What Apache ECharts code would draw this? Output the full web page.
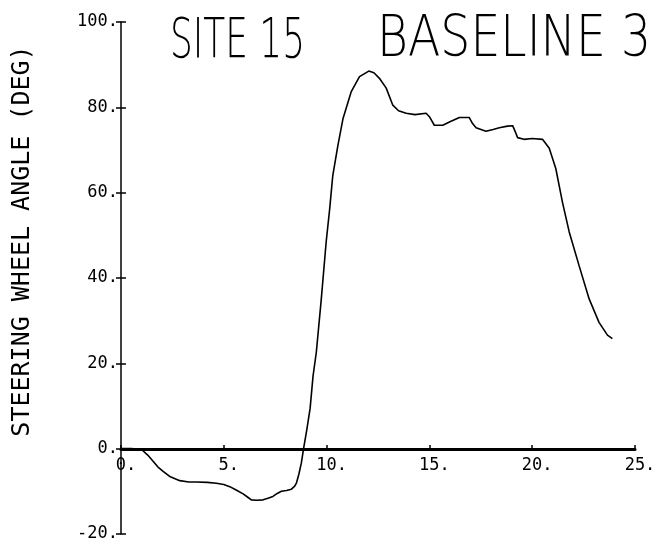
<!DOCTYPE html>
<html>
<head>
<meta charset="utf-8">
<script src="https://cdn.jsdelivr.net/npm/echarts@6/dist/echarts.min.js"></script>
<style>
  html, body { margin: 0; padding: 0; background: #fff; }
  #chart { width: 659px; height: 551px; }
</style>
</head>
<body>
<div id="chart"></div>
<script>
// time (s) and steering wheel angle (deg)
const timeSec = [0, 0.5, 1.0, 1.3, 1.57, 1.8, 2.05, 2.4, 2.86, 3.3, 3.67, 4.2, 4.64, 5.0, 5.29, 5.6, 5.94, 6.2, 6.34, 6.6, 6.91, 7.15, 7.39, 7.6, 7.8, 8.05, 8.29, 8.45, 8.53, 8.65, 8.77, 8.88, 9.04, 9.2, 9.34, 9.5, 9.74, 9.98, 10.15, 10.3, 10.55, 10.8, 11.2, 11.6, 12.05, 12.3, 12.57, 12.9, 13.22, 13.5, 13.87, 14.3, 14.84, 15.0, 15.24, 15.65, 16.0, 16.46, 16.94, 17.1, 17.27, 17.75, 18.1, 18.4, 18.8, 19.05, 19.2, 19.29, 19.6, 20.0, 20.5, 20.83, 21.15, 21.47, 21.8, 22.28, 22.77, 23.25, 23.66, 23.9];
const angleDeg = [0, 0, -0.2, -1.5, -3.0, -4.3, -5.3, -6.6, -7.5, -7.8, -7.8, -7.9, -8.1, -8.4, -8.9, -9.7, -10.6, -11.5, -12.0, -12.1, -12.0, -11.6, -11.2, -10.5, -10.0, -9.8, -9.5, -8.8, -8.1, -6.0, -3.4, 0, 4.5, 9.5, 17, 22.6, 35, 48.5, 56.2, 64, 71.1, 77.4, 83.7, 87.2, 88.5, 88.1, 86.8, 84.5, 80.5, 79.2, 78.6, 78.3, 78.6, 77.8, 75.8, 75.8, 76.6, 77.6, 77.6, 76.2, 75.2, 74.4, 74.8, 75.2, 75.6, 75.7, 74.0, 72.9, 72.5, 72.7, 72.5, 70.4, 65.6, 57.8, 50.8, 42.9, 35.1, 29.6, 26.6, 25.8];

const titleLeft = 'SITE 15';
const titleRight = 'BASELINE 3';
const yAxisTitle = 'STEERING WHEEL ANGLE (DEG)';

const monoFont = '"DejaVu Sans Mono", monospace';

const myChart = echarts.init(document.getElementById('chart'));

const option = {
    animation: false,
    backgroundColor: '#fff',
    grid: { left: 121, right: 24, top: 22, bottom: 17 },
    xAxis: {
        type: 'value',
        min: 0, max: 25, interval: 5,
        // move the axis up to y = 0 (labels go with it)
        offset: -85,
        axisLine: { onZero: false, lineStyle: { color: '#000', width: 3 } },
        axisTick: { show: true, inside: true, length: 4, lineStyle: { color: '#000', width: 1.5 } },
        splitLine: { show: false },
        axisLabel: {
            color: '#000', fontFamily: monoFont, fontSize: 17, margin: 8,
            padding: [0, 0, 0, 10],
            formatter: v => v + '.'
        }
    },
    yAxis: [{
        type: 'value',
        min: -20, max: 100, interval: 20,
        axisLine: { show: true, lineStyle: { color: '#000', width: 1.5 } },
        axisTick: { show: true, length: 5, lineStyle: { color: '#000', width: 1.5 } },
        splitLine: { show: false },
        axisLabel: {
            color: '#000', fontFamily: monoFont, fontSize: 17, margin: 3,
            padding: [8, 0, 0, 0],
            formatter: v => v + '.'
        }
    }, {
        // second copy only to draw the inner half of each tick
        type: 'value', position: 'left',
        min: -20, max: 100, interval: 20,
        axisLine: { show: false },
        axisTick: { show: true, inside: true, length: 5, lineStyle: { color: '#000', width: 1.5 } },
        splitLine: { show: false },
        axisLabel: { show: false }
    }],
    graphic: [
        {
            type: 'text', x: 170, y: 16, scaleX: 0.69, scaleY: 1.05,
            style: { text: titleLeft, x: 0, y: 0, fill: '#000', font: '200 52px "DejaVu Sans"', textVerticalAlign: 'top' }
        },
        {
            type: 'text', x: 377, y: 13, scaleX: 0.91, scaleY: 1.08,
            style: { text: titleRight, x: 0, y: 0, fill: '#000', font: '200 52px "DejaVu Sans"', textVerticalAlign: 'top' }
        },
        {
            type: 'text', x: 22, y: 241, rotation: Math.PI / 2,
            style: { text: yAxisTitle, x: 0, y: 0, fill: '#000', font: '25px ' + monoFont, textAlign: 'center', textVerticalAlign: 'middle' }
        }
    ],
    series: [{
        type: 'line',
        data: timeSec.map((t, i) => [t, angleDeg[i]]),
        showSymbol: false,
        lineStyle: { color: '#000', width: 1.6 }
    }]
};
myChart.setOption(option);
</script>
</body>
</html>
